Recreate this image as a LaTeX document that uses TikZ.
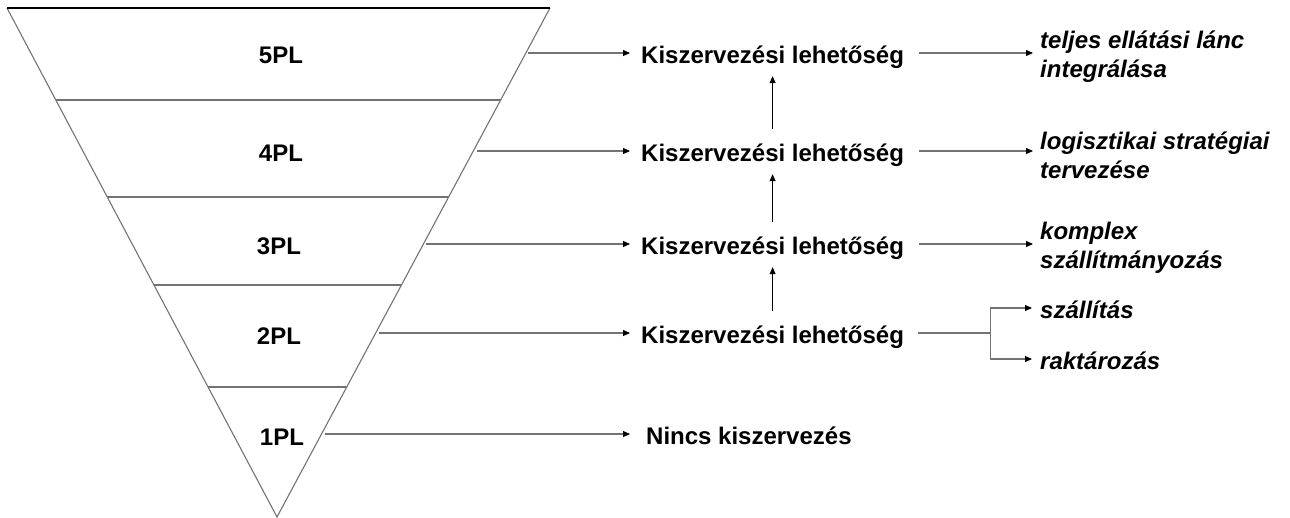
\documentclass[tikz,border=0pt]{standalone}
\usepackage{fontspec}
\setmainfont{Liberation Sans}
\usetikzlibrary{calc,arrows.meta}
\begin{document}
\begin{tikzpicture}[x=1pt,y=-1pt,
  lvl/.style={font=\fontsize{24}{28}\selectfont\bfseries, inner sep=0pt, text height=20pt, text depth=0pt},
  opt/.style={lvl, anchor=west},
  res/.style={font=\fontsize{24}{29}\selectfont\bfseries\itshape, inner sep=0pt, anchor=west, align=left},
  res1/.style={lvl, font=\fontsize{24}{28}\selectfont\bfseries\itshape, anchor=west},
  edgeline/.style={draw=black!55, line width=1.1pt},
  arr/.style={draw=black!55, line width=1.1pt, -{Triangle[length=7pt,width=6pt,color=black]}},
  up/.style={draw=black, line width=0.8pt, -{Triangle[length=7pt,width=6pt]}}]
\useasboundingbox (0,0) rectangle (1290,517);
% funnel
\coordinate (tl) at (7,8);
\coordinate (tr) at (550,8);
\coordinate (ap) at (277,517);
\draw[edgeline] (tr) -- (ap) -- (tl);
\draw[line width=1.1pt] (tl) -- (tr);
\foreach \y in {100,197,285,387}{
  \pgfmathsetmacro{\f}{(\y-8)/509}
  \draw[edgeline] ($(tl)!\f!(ap)$) -- ($(tr)!\f!(ap)$);
}
% level labels
\node[lvl] (l5) at (281,53) {5PL};
\node[lvl] (l4) at (281,151) {4PL};
\node[lvl] (l3) at (279,244) {3PL};
\node[lvl] (l2) at (279,334) {2PL};
\node[lvl] (l1) at (282,435) {1PL};
% arrow starts on the funnel edge
\coordinate (e5) at (528,53);
\coordinate (e4) at (477,151);
\coordinate (e3) at (426,244);
\coordinate (e2) at (379,333);
\coordinate (e1) at (325,434);
% middle column
\node[opt] (k5) at (641,53) {Kiszervezési lehetőség};
\node[opt] (k4) at (641,151) {Kiszervezési lehetőség};
\node[opt] (k3) at (641,244) {Kiszervezési lehetőség};
\node[opt] (k2) at (641,333) {Kiszervezési lehetőség};
\node[opt] (k1) at (646,434) {Nincs kiszervezés};
\foreach \i in {5,4,3,2}{
  \draw[arr, shorten >=11pt] (e\i) -- (e\i -| k\i.west);
}
\draw[arr, shorten >=16pt] (e1) -- (e1 -| k1.west);
% upward arrows
\draw[up, shorten <=12pt, shorten >=13pt] (k4.north) -- (k5.south);
\draw[up, shorten <=12pt, shorten >=13pt] (k3.north) -- (k4.south);
\draw[up, shorten <=12pt, shorten >=13pt] (k2.north) -- (k3.south);
% right column
\node[res] (t5) at (1040,57) {teljes ellátási lánc\\integrálása};
\node[res] (t4) at (1040,155) {logisztikai stratégiai\\tervezése};
\node[res] (t3) at (1040,248) {komplex\\szállítmányozás};
\node[res1] (s1) at (1040,308) {szállítás};
\node[res1] (s2) at (1040,359) {raktározás};
\draw[arr, shorten <=15pt, shorten >=7pt] (k5.east) -- (k5.east -| t5.west);
\draw[arr, shorten <=15pt, shorten >=7pt] (k4.east) -- (k4.east -| t4.west);
\draw[arr, shorten <=15pt, shorten >=7pt] (k3.east) -- (k3.east -| t3.west);
\coordinate (b) at ($(k2.east)+(86,0)$);
\draw[edgeline, shorten <=14pt] (k2.east) -- (b);
\draw[arr, shorten >=8pt] (b) |- (s1.west);
\draw[arr, shorten >=8pt] (b) |- (s2.west);
\end{tikzpicture}
\end{document}
